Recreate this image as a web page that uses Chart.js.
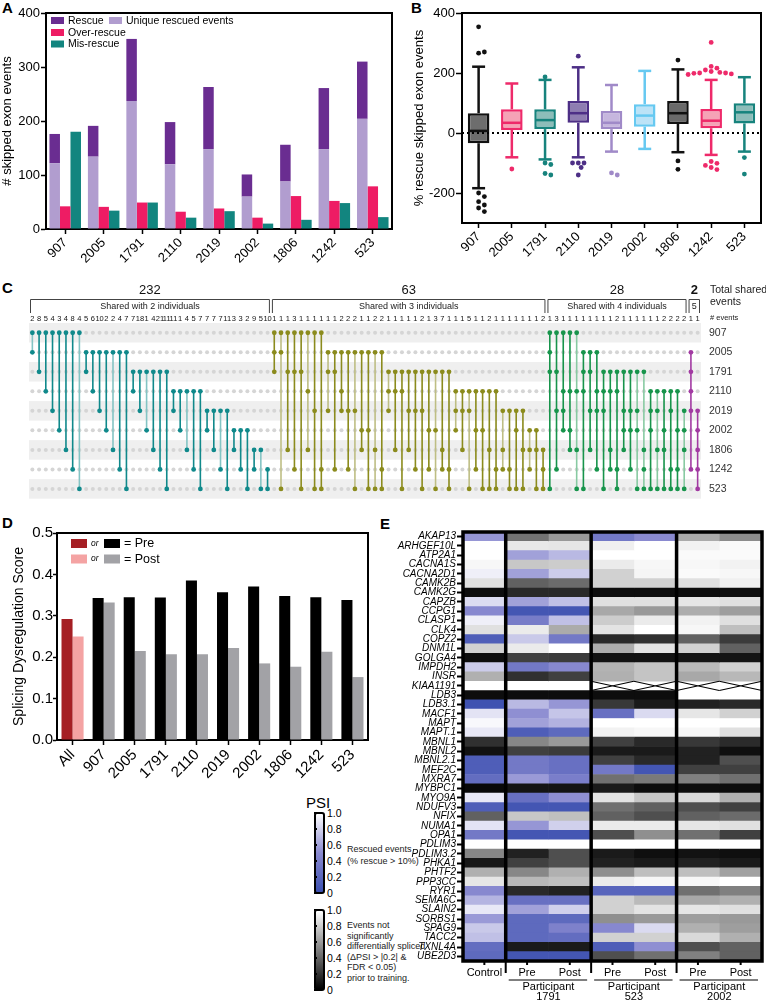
<!DOCTYPE html>
<html><head><meta charset="utf-8">
<script src="https://cdn.jsdelivr.net/npm/chart.js@4.4.1/dist/chart.umd.min.js"></script>
<style>
html,body{margin:0;padding:0;background:#fff;}
body{width:766px;height:1001px;position:relative;overflow:hidden;font-family:'Liberation Sans',Arial,sans-serif;color:#000;}
canvas{position:absolute;}
.pl{position:absolute;font-weight:bold;font-size:15px;line-height:15px;}
.t{position:absolute;white-space:nowrap;line-height:1;}
.nar{font-family:'Liberation Sans Narrow','Arial Narrow','Liberation Sans',Arial,sans-serif;}
.cbar{position:absolute;box-sizing:border-box;border:2px solid #000;border-radius:3px;width:11px;height:82px;}
.tk{position:absolute;width:3px;height:2px;background:#000;}
.lg{font-size:9px;color:#222;}
</style></head><body>
<div class="pl" style="left:2px;top:0px">A</div>
<div class="pl" style="left:411px;top:0px">B</div>
<div class="pl" style="left:2px;top:280px">C</div>
<div class="pl" style="left:2px;top:515px">D</div>
<div class="pl" style="left:380px;top:516px">E</div>
<div class="t" style="left:306px;top:795px;font-size:15px">PSI</div>
<div class="t nar lg" style="left:347px;top:845px">Rescued events</div>
<div class="t nar lg" style="left:347px;top:857px">(% rescue &gt; 10%)</div>
<div class="t nar lg" style="left:347px;top:921px">Events not</div>
<div class="t nar lg" style="left:347px;top:931.5px">significantly</div>
<div class="t nar lg" style="left:347px;top:942px">differentially spliced</div>
<div class="t nar lg" style="left:347px;top:952.5px">(ΔPSI &gt; |0.2| &amp;</div>
<div class="t nar lg" style="left:347px;top:963px">FDR &lt; 0.05)</div>
<div class="t nar lg" style="left:347px;top:974px">prior to training.</div>
<script>
const FONT="'Liberation Sans', Arial, Helvetica, sans-serif";
const NARROW="'Liberation Sans Narrow', 'Arial Narrow', 'Liberation Sans', Arial, sans-serif";

/* ---------- Panel A data ---------- */
const participants=['907','2005','1791','2110','2019','2002','1806','1242','523'];
const rescueTotal=[176,191,352,198,263,101,156,261,310];
const uniqueRescued=[122,134,237,120,148,60,88,148,204];
const overRescue=[42,41,49,32,38,21,61,52,79];
const misRescue=[180,34,49,21,33,10,17,48,22];

/* ---------- Panel B data ---------- */
const boxMin=[-184,-81,-88,-81,-62,-53,-64,-73,-62];
const boxQ1=[-34,10,13,34,13,21,30,16,32];
const boxMedian=[7,34,43,66,34,58,66,41,69];
const boxQ3=[66,79,79,107,73,96,107,80,99];
const boxMax=[221,165,177,219,160,207,212,177,186];
const boxOutliers=[[354,266,270,-200,-212,-229,-240,-250,-262],[-120],[187,-100,-105,-135,-140],[256,-100,-100,-100,-115,-140],[-133,-140],[],[243,-93,-121],[302,222,216,210,205,202,200,200,199,197,195,-95,-101,-108,-115,-122],[-82,-137]];
const ticksB=[-200,0,200,400];

/* ---------- Panel C data ---------- */
const rowsC=['907','2005','1791','2110','2019','2002','1806','1242','523'];
const pairSets=[[0,1],[0,2],[0,3],[0,4],[0,5],[0,6],[0,7],[0,8],[1,2],[1,3],[1,4],[1,5],[1,6],[1,7],[1,8],[2,3],[2,4],[2,5],[2,6],[2,7],[2,8],[3,4],[3,5],[3,6],[3,7],[3,8],[4,5],[4,6],[4,7],[4,8],[5,6],[5,7],[5,8],[6,7],[6,8],[7,8]];
const pairCounts=[2,8,5,4,3,4,8,4,5,6,10,2,2,4,7,7,18,1,4,21,11,11,1,4,5,7,7,7,7,11,3,3,2,9,5,10];
const pairLight=[1,0,0,0,0,0,0,1,0,0,0,0,1,0,0,0,0,1,0,0,0,0,0,1,0,0,0,0,1,0,0,0,0,0,1,0];
const tripleSets=[[0,1,2],[0,1,8],[0,2,6],[0,2,7],[0,2,8],[0,3,6],[0,4,8],[0,7,8],[1,2,4],[1,2,7],[1,3,4],[1,4,7],[1,4,8],[1,5,6],[1,5,8],[1,6,8],[1,7,8],[2,3,4],[2,3,6],[2,3,8],[2,4,6],[2,4,7],[2,4,8],[2,5,7],[2,5,8],[2,6,7],[2,7,8],[3,4,5],[3,4,6],[3,4,8],[3,5,7],[3,5,8],[3,6,8],[3,7,8],[4,6,7],[4,7,8],[4,5,8],[4,6,8],[5,6,7],[5,6,8],[6,7,8]];
const tripleCounts=[1,1,1,3,1,1,1,1,1,1,2,2,2,1,1,2,2,1,1,1,1,1,2,1,3,7,1,1,1,5,1,1,2,1,1,1,1,1,1,1,2];
const tripleLight=[0,1,0,0,0,1,0,0,1,0,0,0,1,0,0,1,0,1,0,0,0,0,0,0,1,0,0,1,0,1,0,0,0,0,1,0,0,0,1,0,0];
const quadSets=[[0,1,2,8],[0,2,4,7],[0,3,4,5],[0,3,5,6],[0,3,6,8],[1,2,3,8],[1,2,4,6],[1,3,4,7],[2,3,4,8],[2,3,6,7],[2,3,7,8],[2,4,5,6],[2,4,5,7],[2,4,5,8],[2,6,7,8],[3,4,5,8],[3,4,6,8],[3,5,6,8],[3,4,7,8],[3,5,7,8],[4,5,6,8]];
const quadCounts=[1,3,1,1,1,1,1,1,1,1,2,1,1,1,1,1,1,2,2,2,2];
const quadLight=[0,0,0,0,1,0,0,0,0,0,0,0,0,1,1,0,1,0,0,0,1];
const quintSets=[[1,2,3,4,7],[4,5,6,7,8]];
const quintCounts=[1,1];
const quintLight=[0,0];
const groupTotals=[232,63,28,2];
const groupNames=['Shared with 2 individuals','Shared with 3 individuals','Shared with 4 individuals','5'];

/* ---------- Panel D data ---------- */
const catD=['All','907','2005','1791','2110','2019','2002','1806','1242','523'];
const scorePre=[0.292,0.343,0.345,0.344,0.385,0.357,0.371,0.348,0.345,0.338];
const scorePost=[0.25,0.332,0.215,0.207,0.207,0.222,0.185,0.177,0.213,0.152];

/* ---------- Panel E data ---------- */
const genes=['AKAP13','ARHGEF10L','ATP2A1','CACNA1S','CACNA2D1','CAMK2B','CAMK2G','CAPZB','CCPG1','CLASP1','CLK4','COPZ2','DNM1L','GOLGA4','IMPDH2','INSR','KIAA1191','LDB3','LDB3.1','MACF1','MAPT','MAPT.1','MBNL1','MBNL2','MBNL2.1','MEF2C','MXRA7','MYBPC1','MYO9A','NDUFV3','NFIX','NUMA1','OPA1','PDLIM3','PDLIM3.2','PHKA1','PHTF2','PPP3CC','RYR1','SEMA6C','SLAIN2','SORBS1','SPAG9','TACC2','TXNL4A','UBE2D3'];
const psiControl=[.55,1,1,.97,.93,.88,.05,.85,.48,.93,.88,.12,.82,.05,.78,.69,1,.05,.02,.88,.97,.9,.19,.07,.12,.12,.25,.03,.9,.12,.38,.88,.35,1,.53,.09,.69,.9,.48,.68,.9,.57,.77,.73,.25,.22];
const psi1791Pre=[.45,.91,.6,.78,.6,.38,.16,.6,.05,.38,.92,.77,.92,.25,.35,.19,1,.05,.7,.52,.6,.12,.53,.25,.35,.35,.57,.08,.28,.05,.78,.55,.05,1,.13,.25,.53,.72,.16,.28,.6,.22,.22,.22,.1,.05];
const psi1791Post=[.6,.9,.7,.8,.78,.42,.16,.73,.05,.73,.67,.35,1,.23,.48,.25,1,.05,.55,.75,.67,.22,.6,.23,.28,.28,.4,.08,.52,.05,.75,.8,.05,1,.31,.31,.69,.75,.13,.28,.8,.22,.42,.25,.1,.05];
const psi523Pre=[.35,.94,1,.92,.82,.82,.05,.88,.66,.8,.89,.16,.68,.07,.7,.69,null,.05,.22,.28,1,.95,.25,.1,.25,.35,.44,.1,.89,.44,.38,.92,.31,1,.1,.13,.56,.92,.18,.82,.82,.56,.48,.82,.12,.31];
const psi523Post=[.5,1,1,.97,.96,.82,.05,.88,.6,.92,1,.19,.89,.07,.77,.77,null,.05,.1,.84,1,.97,.16,.1,.16,.05,.48,.05,.78,.38,.31,.92,.56,1,.06,.1,.75,.97,.18,.73,.89,.6,.84,.82,.52,.44];
const psi2002Pre=[.67,.95,.98,.97,.98,.88,.05,.9,.68,.95,.97,.38,.82,.08,.73,.66,null,1,.13,.9,1,.97,.22,.13,.13,.25,.5,.05,.85,.31,.38,.9,.44,1,.07,.13,.75,.97,.44,.66,.9,.62,.69,.85,.31,.5];
const psi2002Post=[.55,.98,.98,.95,.97,.94,.05,.88,.62,.88,.75,.23,.38,.08,.82,.72,null,1,.16,.82,1,.88,.17,.06,.31,.25,.44,.05,.69,.25,.42,.88,.25,1,.06,.1,.63,1,.5,.69,.88,.6,.62,.69,.38,.38];
const rescued1791=[0,0,1,0,1,0,0,1,1,1,0,1,0,0,1,0,0,0,1,1,1,1,0,0,1,1,1,0,1,1,0,1,1,0,0,0,0,0,0,1,1,1,1,1,0,1];
const rescued523=[1,0,0,0,0,0,0,0,0,0,0,0,0,0,0,0,0,0,0,1,0,0,0,0,0,1,0,0,0,0,0,0,0,0,0,0,0,0,1,0,0,0,1,0,1,0];
const rescued2002=[0,0,0,0,0,0,0,0,0,0,0,0,0,0,0,0,0,0,0,0,0,0,0,0,0,0,0,0,0,0,0,0,0,0,0,0,0,0,0,0,0,0,0,0,0,0];
const heatColLabels=['Control','Pre','Post','Pre','Post','Pre','Post'];
const heatGroups=[['1791',1,3],['523',3,5],['2002',5,7]];
const psiTicks=['1.0','0.8','0.6','0.4','0.2','0'];

/* ---------- setup ---------- */
Chart.defaults.font.family=FONT;
Chart.defaults.color='#000';
Chart.defaults.animation=false;
Chart.defaults.responsive=false;
Chart.defaults.devicePixelRatio=1;
Chart.defaults.events=[];
Chart.defaults.plugins.legend.display=false;
Chart.defaults.plugins.tooltip.enabled=false;

function mk(left,top,w,h){const c=document.createElement('canvas');c.width=w;c.height=h;c.style.left=left+'px';c.style.top=top+'px';c.style.width=w+'px';c.style.height=h+'px';document.body.appendChild(c);return c;}
function framePlugin(w){return{id:'frame',afterDatasetsDraw(chart){const{ctx,chartArea:a}=chart;ctx.save();ctx.strokeStyle='#000';ctx.lineWidth=w;ctx.beginPath();ctx.moveTo(a.left,a.top);ctx.lineTo(a.right,a.top);ctx.lineTo(a.right,a.bottom);ctx.stroke();ctx.restore();}};}
function catX(size,h){return{grid:{offset:false,drawOnChartArea:false,drawTicks:true,tickLength:5,tickColor:'#000',tickWidth:1.5},border:{display:true,color:'#000',width:2},ticks:{color:'#000',font:{size:size},minRotation:45,maxRotation:45,padding:1,autoSkip:false},afterFit(s){s.height=h;}};}

/* ---------- Panel A ---------- */
const C_RESCUE='#6a2d91',C_UNIQUE='#b19dcf',C_OVER='#ee1c64',C_MIS='#12857f';
const legendA={id:'legA',afterDraw(chart){const{ctx,chartArea:a}=chart;const items=[[C_RESCUE,'Rescue',5,7.5],[C_UNIQUE,'Unique rescued events',63,7.5],[C_OVER,'Over-rescue',5,19.5],[C_MIS,'Mis-rescue',5,31]];ctx.save();ctx.font='10.5px '+FONT;ctx.textBaseline='middle';items.forEach(([c,t,dx,dy])=>{ctx.fillStyle=c;ctx.fillRect(a.left+dx,a.top+dy-3.5,13,7);ctx.fillStyle='#000';ctx.fillText(t,a.left+dx+17,a.top+dy+0.5);});ctx.restore();}};
new Chart(mk(0,0,400,265),{type:'bar',
 data:{labels:participants,datasets:[
  {data:uniqueRescued,backgroundColor:C_UNIQUE,stack:'r'},
  {data:rescueTotal.map((t,i)=>t-uniqueRescued[i]),backgroundColor:C_RESCUE,stack:'r'},
  {data:overRescue,backgroundColor:C_OVER,stack:'o'},
  {data:misRescue,backgroundColor:C_MIS,stack:'m'}]},
 options:{layout:{padding:{top:13,right:8,left:0,bottom:0}},
  datasets:{bar:{categoryPercentage:0.82,barPercentage:1}},
  scales:{x:Object.assign(catX(13,36),{stacked:true}),
   y:{stacked:true,min:0,max:400,ticks:{stepSize:100,font:{size:13},color:'#000',padding:1},grid:{drawOnChartArea:false,tickLength:5,tickColor:'#000',tickWidth:1.5},border:{color:'#000',width:2},title:{display:true,text:'# skipped exon events',font:{size:13},padding:{top:0,bottom:0}},afterFit(s){s.width=46;}}}},
 plugins:[framePlugin(2),legendA]});

/* ---------- Panel B ---------- */
const boxFill=['#6d6d6d','#f5a3b6','#8dbdb9','#8e7db1','#c6b6de','#bce3f7','#6a6a6a','#f5a3b6','#8dbdb9'];
const boxLine=['#111111','#ee2a6a','#17837d','#4d2f86','#a08ac8','#66c9f1','#111111','#ee2a6a','#17837d'];
function swarm(vals,cx,yf,r){const placed=[];return vals.map(v=>{const py=yf(v);let off=0;for(let k=0;k<60;k++){const cand=k===0?0:(k%2?1:-1)*Math.ceil(k/2)*r*1.2;if(placed.every(p=>Math.hypot(p[0]-(cx+cand),p[1]-py)>=2*r*1.05)){off=cand;break;}}placed.push([cx+off,py]);return[cx+off,py];});}
const boxPlugin={id:'box',afterDatasetsDraw(chart){const{ctx,chartArea:a,scales:{x,y}}=chart;ctx.save();
 ctx.setLineDash([2,3]);ctx.lineWidth=2;ctx.strokeStyle='#000';ctx.beginPath();const y0=y.getPixelForValue(0);ctx.moveTo(a.left,y0);ctx.lineTo(a.right,y0);ctx.stroke();ctx.setLineDash([]);
 const meta=chart.getDatasetMeta(0);
 participants.forEach((p,i)=>{const cx=x.getPixelForValue(i);const bw=meta.data[i].width;ctx.strokeStyle=boxLine[i];ctx.fillStyle=boxLine[i];ctx.lineWidth=2.5;
  const L=(x1,y1,x2,y2)=>{ctx.beginPath();ctx.moveTo(x1,y1);ctx.lineTo(x2,y2);ctx.stroke();};
  L(cx,y.getPixelForValue(boxQ3[i]),cx,y.getPixelForValue(boxMax[i]));
  L(cx,y.getPixelForValue(boxQ1[i]),cx,y.getPixelForValue(boxMin[i]));
  L(cx-bw*0.3,y.getPixelForValue(boxMax[i]),cx+bw*0.3,y.getPixelForValue(boxMax[i]));
  L(cx-bw*0.3,y.getPixelForValue(boxMin[i]),cx+bw*0.3,y.getPixelForValue(boxMin[i]));
  L(cx-bw/2+1,y.getPixelForValue(boxMedian[i]),cx+bw/2-1,y.getPixelForValue(boxMedian[i]));
  swarm(boxOutliers[i],cx,v=>y.getPixelForValue(v),2.4).forEach(([px,py])=>{ctx.beginPath();ctx.arc(px,py,2.4,0,Math.PI*2);ctx.fill();});
 });ctx.restore();}};
new Chart(mk(380,0,386,265),{type:'bar',
 data:{labels:participants,datasets:[{data:boxQ1.map((q,i)=>[q,boxQ3[i]]),backgroundColor:boxFill,borderColor:boxLine,borderWidth:2.5,borderSkipped:false,categoryPercentage:0.65,barPercentage:1}]},
 options:{layout:{padding:{top:13,right:5,left:0,bottom:0}},
  scales:{x:catX(13,42),
   y:{min:-300,max:400,afterBuildTicks(s){s.ticks=ticksB.map(v=>({value:v}));},ticks:{font:{size:13},color:'#000',padding:1},grid:{drawOnChartArea:false,tickLength:6,tickColor:'#000',tickWidth:1.5},border:{color:'#000',width:2},title:{display:true,text:'% rescue skipped exon events',font:{size:13},padding:{top:32,bottom:0}},afterFit(s){s.width=82;}}}},
 plugins:[framePlugin(2),boxPlugin]});

/* ---------- Panel C ---------- */
const groupsC=[
 {sets:pairSets,counts:pairCounts,light:pairLight,col:['#10898b','#84c4c4']},
 {sets:tripleSets,counts:tripleCounts,light:tripleLight,col:['#8b8b1d','#bebe84']},
 {sets:quadSets,counts:quadCounts,light:quadLight,col:['#17944b','#88caa2']},
 {sets:quintSets,counts:quintCounts,light:quintLight,col:['#a23aa2','#cc92cc']}];
const colsC=[];
groupsC.forEach((g,gi)=>{g.start=colsC.length;g.sets.forEach((s,k)=>{colsC.push({x:colsC.length,set:s,count:g.counts[k],light:g.light[k],col:g.col});});g.end=colsC.length-1;});
const grayPts=[];colsC.forEach(c=>rowsC.forEach((r,ri)=>{if(!c.set.includes(ri))grayPts.push({x:c.x,y:ri});}));
const dsC=[{data:grayPts,showLine:false,pointRadius:2,pointBackgroundColor:'#d5d5d5',pointBorderWidth:0,order:2}];
colsC.forEach(c=>dsC.push({data:c.set.map(r=>({x:c.x,y:r})),showLine:true,borderColor:c.light?c.col[1]:c.col[0],borderWidth:1.6,pointRadius:2.4,pointBackgroundColor:c.col[0],pointBorderWidth:0,order:1}));
const cPlugin={id:'cplug',
 beforeDatasetsDraw(chart){const{ctx,chartArea:a,scales:{y}}=chart;ctx.save();ctx.fillStyle='#efefef';rowsC.forEach((r,ri)=>{if(ri%2===0){const t=y.getPixelForValue(ri-0.5),b=y.getPixelForValue(ri+0.5);ctx.fillRect(a.left,Math.min(t,b),a.right-a.left,Math.abs(b-t));}});ctx.restore();},
 afterDraw(chart){const{ctx,chartArea:a,scales:{x}}=chart;ctx.save();ctx.fillStyle='#111';ctx.textAlign='center';
  ctx.font='7.5px '+NARROW;ctx.textBaseline='alphabetic';colsC.forEach(c=>ctx.fillText(String(c.count),x.getPixelForValue(c.x),a.top-2));
  ctx.strokeStyle='#444';ctx.lineWidth=1;
  groupsC.forEach((g,gi)=>{const x1=x.getPixelForValue(g.start-0.5)+1.5,x2=x.getPixelForValue(g.end+0.5)-1.5;const yt=a.top-23.5,yb=a.top-10;
   ctx.beginPath();ctx.moveTo(x1,yb);ctx.lineTo(x1,yt);ctx.lineTo(x2,yt);ctx.lineTo(x2,yb);ctx.stroke();
   ctx.textBaseline='middle';ctx.fillStyle='#222';ctx.font='9px '+NARROW;ctx.fillText(groupNames[gi],(x1+x2)/2,a.top-16);
   ctx.fillStyle='#111';ctx.font=(gi===3?'bold ':'')+'13px '+NARROW;ctx.fillText(String(groupTotals[gi]),(x1+x2)/2,a.top-33);});
  ctx.textAlign='left';ctx.fillStyle='#222';ctx.font='10.5px '+NARROW;ctx.textBaseline='middle';
  ctx.fillText('Total shared',710,a.top-33);ctx.fillText('events',710,a.top-21);
  ctx.font='7.5px '+NARROW;ctx.fillText('# events',710,a.top-5);
  ctx.restore();}};
new Chart(mk(0,278,766,235),{type:'scatter',data:{datasets:dsC},
 options:{layout:{padding:{left:29,top:45,bottom:8,right:0}},
  scales:{x:{type:'linear',min:-0.5,max:colsC.length-0.5,display:false},
   y:{type:'linear',position:'right',min:-0.5,max:8.5,reverse:true,afterBuildTicks(s){s.ticks=rowsC.map((r,i)=>({value:i}));},ticks:{callback:v=>rowsC[v],font:{size:10.5,family:NARROW},color:'#333',padding:8},grid:{display:false,drawTicks:false},border:{display:false},afterFit(s){s.width=65;}}}},
 plugins:[cPlugin]});

/* ---------- Panel D ---------- */
const legendD={id:'legD',afterDraw(chart){const{ctx,chartArea:a}=chart;ctx.save();ctx.textBaseline='middle';
 const rows=[['#a51f24','#000000','= Pre',10.5],['#f4a3a3','#a2a2a6','= Post',26]];
 rows.forEach(([c1,c2,t,dy])=>{ctx.fillStyle=c1;ctx.fillRect(a.left+14,a.top+dy-4.5,16,9);ctx.fillStyle=c2;ctx.fillRect(a.left+47,a.top+dy-4.5,16,9);
  ctx.fillStyle='#000';ctx.font='italic 8.5px '+FONT;ctx.fillText('or',a.left+34,a.top+dy);ctx.font='12.5px '+FONT;ctx.fillText(t,a.left+67,a.top+dy+0.5);});
 ctx.restore();}};
new Chart(mk(0,520,380,285),{type:'bar',
 data:{labels:catD,datasets:[
  {data:scorePre,backgroundColor:catD.map((c,i)=>i===0?'#a51f24':'#000000')},
  {data:scorePost,backgroundColor:catD.map((c,i)=>i===0?'#f4a3a3':'#a2a2a6')}]},
 options:{layout:{padding:{top:13,right:12,left:0,bottom:0}},
  datasets:{bar:{categoryPercentage:0.71,barPercentage:1}},
  scales:{x:catX(15,65),
   y:{min:0,max:0.5,ticks:{stepSize:0.1,callback:v=>v.toFixed(1),font:{size:15},color:'#000',padding:0},grid:{drawOnChartArea:false,tickLength:4,tickColor:'#000',tickWidth:1.5},border:{color:'#000',width:2},title:{display:true,text:'Splicing Dysregulation Score',font:{size:14},padding:{top:11,bottom:0}},afterFit(s){s.width=57;}}}},
 plugins:[framePlugin(2),legendD]});

/* ---------- Panel E ---------- */
function lerp(a,b,t){return a+(b-a)*t;}
function blueCol(p){const s=[[0,[60,80,176]],[0.5,[138,138,208]],[1,[255,255,255]]];let k=p<=0.5?0:1;const t=(p-s[k][0])/(s[k+1][0]-s[k][0]);const c=s[k][1].map((v,i)=>Math.round(lerp(v,s[k+1][1][i],t)));return 'rgb('+c.join(',')+')';}
function grayCol(p){const v=Math.round(255*p);return 'rgb('+v+','+v+','+v+')';}
const psiColumns=[psiControl,psi1791Pre,psi1791Post,psi523Pre,psi523Post,psi2002Pre,psi2002Post];
const rescuedAny=genes.map((g,i)=>(rescued1791[i]||rescued523[i]||rescued2002[i])?1:0);
const colRescued=[rescuedAny,rescued1791,rescued1791,rescued523,rescued523,rescued2002,rescued2002];
const dsE=psiColumns.map((col,j)=>({data:col.map(v=>v===null?null:[j,j+1]),backgroundColor:col.map((v,i)=>v===null?'rgba(0,0,0,0)':(colRescued[j][i]?blueCol(v):grayCol(v))),borderWidth:0,grouped:false,barPercentage:1,categoryPercentage:1}));
const ePlugin={id:'eplug',afterDatasetsDraw(chart){const{ctx,chartArea:a,scales:{x,y}}=chart;ctx.save();
 const rowH=(a.bottom-a.top)/genes.length;
 ctx.strokeStyle='#000';ctx.lineWidth=1.1;
 psiColumns.forEach((col,j)=>col.forEach((v,i)=>{if(v===null){const x1=x.getPixelForValue(j),x2=x.getPixelForValue(j+1),yc=y.getPixelForValue(i),t=yc-rowH/2,b=yc+rowH/2;ctx.beginPath();ctx.moveTo(x1,t);ctx.lineTo(x2,b);ctx.moveTo(x1,b);ctx.lineTo(x2,t);ctx.stroke();}}));
 ctx.lineWidth=3.5;ctx.beginPath();[1,3,5].forEach(v=>{const px=x.getPixelForValue(v);ctx.moveTo(px,a.top);ctx.lineTo(px,a.bottom);});ctx.stroke();
 ctx.strokeRect(a.left,a.top,a.right-a.left,a.bottom-a.top);
 ctx.lineWidth=2;ctx.beginPath();[1,3,5].forEach(v=>{const px=x.getPixelForValue(v);ctx.moveTo(px,a.bottom);ctx.lineTo(px,a.bottom+12);});
 heatColLabels.forEach((t,j)=>{const px=x.getPixelForValue(j+0.5);ctx.moveTo(px,a.bottom);ctx.lineTo(px,a.bottom+4);});ctx.stroke();
 ctx.fillStyle='#000';ctx.textAlign='center';ctx.textBaseline='middle';ctx.font='11px '+NARROW;
 heatColLabels.forEach((t,j)=>ctx.fillText(t,x.getPixelForValue(j+0.5),a.bottom+12));
 ctx.lineWidth=1;ctx.beginPath();
 heatGroups.forEach(([n,s,e])=>{ctx.moveTo(x.getPixelForValue(s)+3,a.bottom+19);ctx.lineTo(x.getPixelForValue(e)-4,a.bottom+19);});ctx.stroke();
 heatGroups.forEach(([n,s,e])=>{const cx=(x.getPixelForValue(s)+x.getPixelForValue(e))/2;ctx.fillText('Participant',cx,a.bottom+25.5);ctx.fillText(n,cx,a.bottom+35.5);});
 ctx.restore();}};
new Chart(mk(380,520,386,481),{type:'bar',
 data:{labels:genes,datasets:dsE},
 options:{indexAxis:'y',layout:{padding:{top:12,right:4,left:0,bottom:40}},
  scales:{x:{type:'linear',min:0,max:7,display:false},
   y:{type:'category',ticks:{autoSkip:false,font:{size:10,style:'italic',family:NARROW},color:'#000',padding:1},grid:{offset:false,drawOnChartArea:false,drawTicks:true,tickLength:6,tickColor:'#000',tickWidth:2},border:{display:false},afterFit(s){s.width=83;}}}},
 plugins:[ePlugin]});

/* ---------- PSI colour bars ---------- */
function colorbar(top,grad){const d=document.createElement('div');d.className='cbar';d.style.left='314px';d.style.top=top+'px';d.style.background=grad;document.body.appendChild(d);
 psiTicks.forEach((t,i)=>{const yy=top+1+i*16;const l=document.createElement('div');l.className='t nar';l.style.left='327px';l.style.top=(yy-5.5)+'px';l.style.fontSize='10.5px';l.textContent=t;document.body.appendChild(l);
  const k=document.createElement('div');k.className='tk';k.style.left='314px';k.style.top=(yy-1)+'px';document.body.appendChild(k);});}
colorbar(812,'linear-gradient(to bottom,#ffffff 0%,rgb(138,138,208) 50%,rgb(60,80,176) 100%)');
colorbar(909,'linear-gradient(to bottom,#ffffff 0%,#000000 100%)');
</script></body></html>
